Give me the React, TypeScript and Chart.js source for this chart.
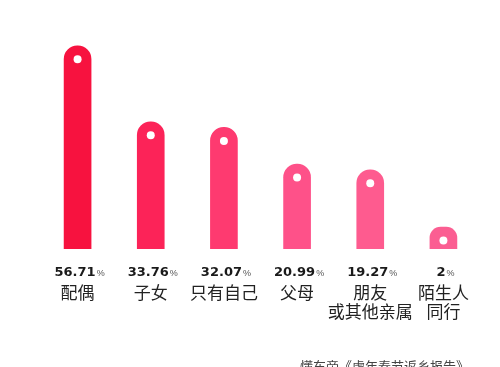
import React, { useEffect, useRef } from "react";
import { Chart, registerables } from "chart.js";

Chart.register(...registerables);

const categories: string[][] = [["配偶"], ["子女"], ["只有自己"], ["父母"], ["朋友", "或其他亲属"], ["陌生人", "同行"]];
const values: number[] = [56.71, 33.76, 32.07, 20.99, 19.27, 2];
const valueTexts: string[] = ["56.71", "33.76", "32.07", "20.99", "19.27", "2"];
const barColors: string[] = ["#F7123F", "#FC2358", "#FE3A70", "#FE5189", "#FE5B8F", "#FB5E92"];
const sourceText = "懂车帝《虎年春节返乡报告》";

const BASE = -4.65;

const overlayPlugin = {
  id: "overlay",
  afterDatasetsDraw(chart: any) {
    const ctx = chart.ctx;
    const meta = chart.getDatasetMeta(0);
    ctx.save();
    meta.data.forEach((bar: any, i: number) => {
      const r = bar.width / 2;
      ctx.beginPath();
      ctx.fillStyle = "#ffffff";
      ctx.arc(bar.x, bar.y + r, 4, 0, Math.PI * 2);
      ctx.fill();
      const y = chart.chartArea.bottom + 22;
      ctx.font = "bold 13px 'DejaVu Sans'";
      const num = valueTexts[i];
      const nw = ctx.measureText(num).width;
      ctx.font = "9px 'Liberation Sans'";
      const pw = ctx.measureText("%").width;
      const total = nw + 1 + pw;
      const x0 = bar.x - total / 2 + 2;
      ctx.textBaseline = "alphabetic";
      ctx.textAlign = "left";
      ctx.fillStyle = "#1a1a1a";
      ctx.font = "bold 13px 'DejaVu Sans'";
      ctx.fillText(num, x0, y + 5);
      ctx.fillStyle = "#555555";
      ctx.font = "9px 'Liberation Sans'";
      ctx.fillText("%", x0 + nw + 1, y + 5);
    });
    ctx.fillStyle = "#444444";
    ctx.font = "13px 'Noto Sans CJK SC'";
    ctx.textAlign = "left";
    ctx.textBaseline = "middle";
    ctx.fillText(sourceText, 300, 366);
    ctx.restore();
  },
};

export default function App() {
  const ref = useRef<HTMLCanvasElement | null>(null);
  useEffect(() => {
    document.body.style.margin = "0";
    const chart = new Chart(ref.current as HTMLCanvasElement, {
      type: "bar",
      data: {
        labels: categories,
        datasets: [
          {
            data: values,
            base: BASE,
            backgroundColor: barColors,
            barThickness: 27,
            borderRadius: { topLeft: 13.5, topRight: 13.5, bottomLeft: 0, bottomRight: 0 },
            borderSkipped: "bottom",
          } as any,
        ],
      },
      options: {
        animation: false,
        responsive: true,
        maintainAspectRatio: false,
        layout: { padding: { left: 41, right: 20, top: 30, bottom: 0 } },
        plugins: { legend: { display: false }, tooltip: { enabled: false } },
        scales: {
          y: {
            display: false,
            min: BASE,
            max: 61.5,
          },
          x: {
            grid: { display: false, drawTicks: false },
            border: { display: false },
            ticks: {
              padding: 34,
              color: "#222222",
              font: { size: 17, family: "'Noto Sans CJK SC'", lineHeight: 1.12 },
              maxRotation: 0,
              autoSkip: false,
            },
            afterFit: (scale: any) => {
              scale.height = 118;
              scale.paddingLeft = 0;
              scale.paddingRight = 0;
            },
          },
        },
      },
      plugins: [overlayPlugin],
    });
    return () => chart.destroy();
  }, []);
  return (
    <div style={{ position: "fixed", left: 0, top: 0, width: 500, height: 367, background: "#fff" }}>
      <canvas ref={ref} />
    </div>
  );
}
